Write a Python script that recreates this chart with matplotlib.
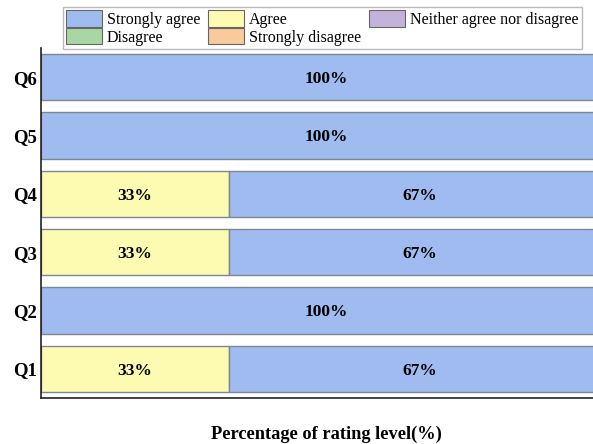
import matplotlib
matplotlib.use("Agg")
import matplotlib.pyplot as plt
from matplotlib.patches import Patch

plt.rcParams['font.family'] = ['Liberation Serif', 'DejaVu Serif']

questions = ["Q1", "Q2", "Q3", "Q4", "Q5", "Q6"]
agree = [33, 0, 33, 33, 0, 0]
strongly_agree = [67, 100, 67, 67, 100, 100]

levels = ["Strongly agree", "Agree", "Neither agree nor disagree",
          "Disagree", "Strongly disagree"]
colors = {"Strongly agree": "#a0bbf0", "Agree": "#fdfbb2",
          "Neither agree nor disagree": "#c3b3da", "Disagree": "#a9d7a3",
          "Strongly disagree": "#f8ca9c"}

fig = plt.figure(figsize=(5.93, 4.44), dpi=100)
ax = fig.add_axes([41 / 593, 1 - 398 / 444, 570 / 593, 350 / 444])

y = list(range(len(questions)))
edge = "#7d8794"
ax.barh(y, agree, height=0.79, color=colors["Agree"], edgecolor=edge, linewidth=1.0)
ax.barh(y, strongly_agree, left=agree, height=0.79,
        color=colors["Strongly agree"], edgecolor=edge, linewidth=1.0)

for i in y:
    if agree[i] > 0:
        ax.text(agree[i] / 2, i, f"{agree[i]}%", ha="center", va="center_baseline",
                fontsize=12.5, fontweight="bold")
    ax.text(agree[i] + strongly_agree[i] / 2, i, f"{strongly_agree[i]}%",
            ha="center", va="center_baseline", fontsize=12.5, fontweight="bold")

ax.set_xlim(0, 100)
ax.set_ylim(-0.5, len(questions) - 0.5)
ax.set_yticks(y)
ax.set_yticklabels(questions, fontsize=13.5, fontweight="bold")
ax.set_xticks([])
ax.tick_params(axis="y", length=0, pad=3)
for s in ["top", "right"]:
    ax.spines[s].set_visible(False)
ax.spines["left"].set_linewidth(1.2)
ax.spines["bottom"].set_linewidth(1.2)
ax.spines["left"].set_color("#222222")
ax.spines["bottom"].set_color("#222222")

ax.set_xlabel("Percentage of rating level(%)", fontsize=13.2, fontweight="bold",
              labelpad=20)

# legend laid out row-wise across three columns
order = ["Strongly agree", "Disagree", "Agree", "Strongly disagree",
         "Neither agree nor disagree"]
handles = [Patch(facecolor=colors[k], edgecolor="#666666", linewidth=0.8, label=k)
           for k in order]
fig.legend(handles=handles, loc="upper left", ncol=3,
           bbox_to_anchor=(63 / 593, 1 - 7 / 444), fontsize=11.5,
           frameon=True, fancybox=False, edgecolor="#aaaaaa",
           handlelength=2.25, handleheight=1.2, handletextpad=0.3,
           columnspacing=0.5, labelspacing=0.02, borderpad=0.2,
           borderaxespad=0)

fig.savefig("out.png", dpi=100)
